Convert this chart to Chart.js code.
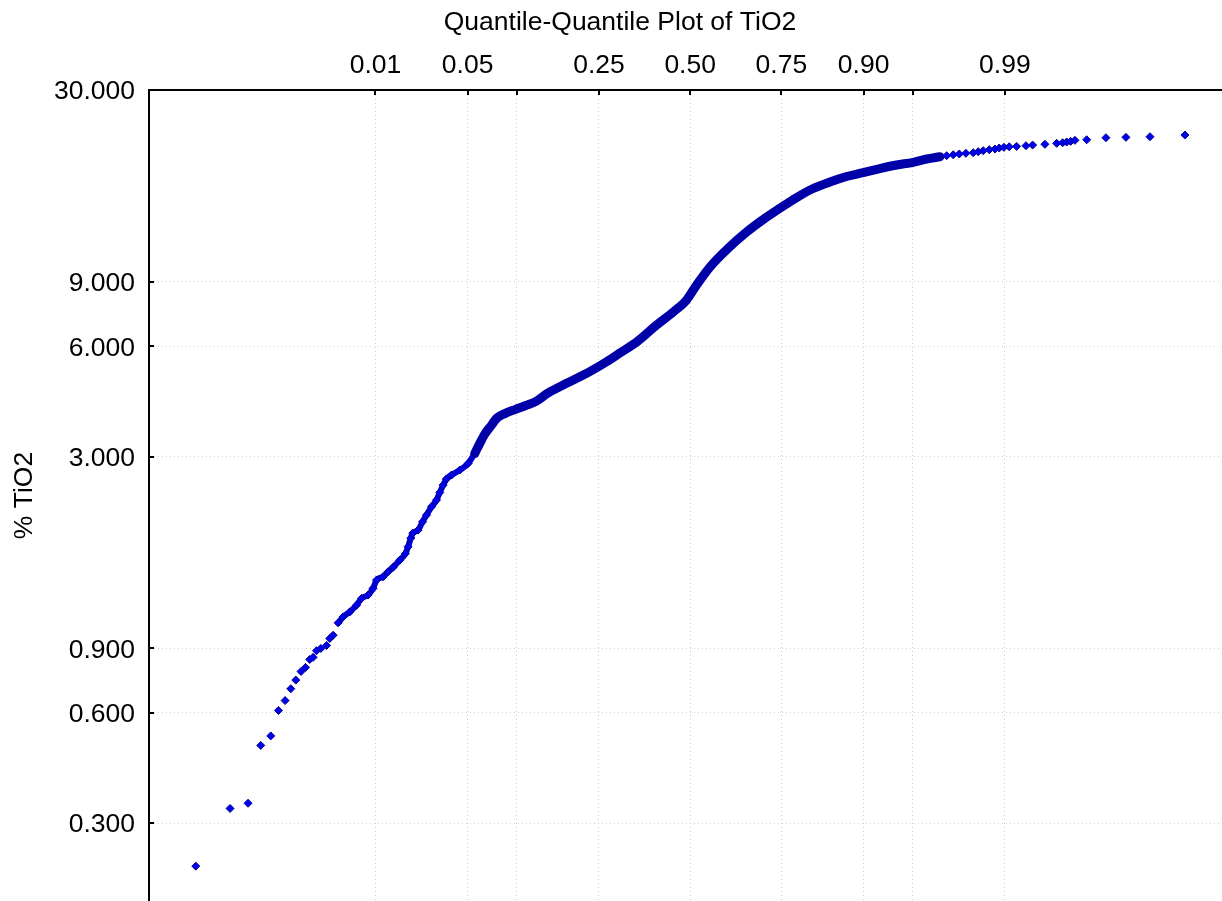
<!DOCTYPE html>
<html>
<head>
<meta charset="utf-8">
<title>Quantile-Quantile Plot of TiO2</title>
<script src="https://cdn.jsdelivr.net/npm/chart.js@4.4.1/dist/chart.umd.min.js"></script>
<style>
  html, body { margin: 0; padding: 0; background: #fff; overflow: hidden; }
  canvas { display: block; }
</style>
</head>
<body>
<canvas id="qq" width="1240" height="901"></canvas>
<script>
// top axis: normal quantile (z) positions and the probability shown for each
const probTicks = [-2.326, -1.645, -1.282, -0.674, 0, 0.674, 1.282, 1.645, 2.326]
const probLabels = ["0.01", "0.05", "", "0.25", "0.50", "0.75", "0.90", "", "0.99"]
const tio2Ticks = [0.3, 0.6, 0.9, 3, 6, 9, 30]

// lower tail, points stand apart
const lowZ = [-3.654, -3.401, -3.268, -3.174, -3.100, -3.043, -2.994, -2.952, -2.915,
  -2.876, -2.843, -2.812, -2.787, -2.762, -2.730, -2.688, -2.664, -2.639]
const lowTiO2 = [0.229, 0.329, 0.340, 0.489, 0.519, 0.609, 0.648, 0.698, 0.737,
  0.778, 0.798, 0.839, 0.850, 0.886, 0.899, 0.916, 0.957, 0.977]

// body of the sample, points overlap into a band
const bandLowZ = [-2.602, -2.565, -2.516, -2.466, -2.429, -2.381, -2.344, -2.318, -2.270,
  -2.233, -2.196, -2.146, -2.104, -2.085, -2.065, -2.050, -2.011, -1.978, -1.949, -1.912,
  -1.875, -1.851, -1.826, -1.802, -1.764, -1.703, -1.641, -1.592]
const bandLowTiO2 = [1.056, 1.096, 1.131, 1.180, 1.231, 1.257, 1.311, 1.381, 1.410,
  1.455, 1.496, 1.566, 1.633, 1.702, 1.798, 1.855, 1.891, 1.992, 2.078, 2.188,
  2.283, 2.393, 2.508, 2.605, 2.671, 2.756, 2.874, 3.060]

const bandHighZ = [-1.592, -1.555, -1.518, -1.468, -1.429, -1.370, -1.296, -1.215, -1.136,
  -1.052, -0.914, -0.742, -0.618, -0.520, -0.387, -0.248, -0.126, -0.027, 0.047, 0.146,
  0.279, 0.417, 0.540, 0.663, 0.787, 0.909, 1.033, 1.156, 1.279, 1.402, 1.526, 1.649,
  1.748, 1.846]
const bandHighTiO2 = [3.060, 3.260, 3.455, 3.656, 3.820, 3.930, 4.030, 4.134, 4.252,
  4.471, 4.752, 5.117, 5.443, 5.748, 6.197, 6.855, 7.436, 8.020, 8.810, 9.867,
  11.08, 12.29, 13.30, 14.27, 15.27, 16.16, 16.83, 17.42, 17.85, 18.32, 18.73, 19.05,
  19.45, 19.73]

// upper tail
const highZ = [1.896, 1.944, 1.989, 2.038, 2.092, 2.129, 2.166, 2.211, 2.253, 2.284,
  2.319, 2.358, 2.413, 2.482, 2.531, 2.622, 2.709, 2.753, 2.783, 2.812, 2.844, 2.931,
  3.073, 3.221, 3.399, 3.657]
const highTiO2 = [19.86, 19.98, 20.07, 20.16, 20.23, 20.36, 20.49, 20.62, 20.71, 20.84,
  20.93, 21.01, 21.05, 21.14, 21.23, 21.33, 21.46, 21.54, 21.64, 21.73, 21.87, 21.95,
  22.23, 22.28, 22.37, 22.61]

const FONT = "'Liberation Sans', Arial, Helvetica, sans-serif"
const fillBlue = "#0000f0"
const edgeBlue = "#000090"

function toPoints(zs, vs) {
  return zs.map((z, i) => ({ x: z, y: vs[i] }))
}

function markers(data) {
  return {
    data,
    showLine: false,
    pointStyle: "rectRot",
    pointRadius: 4,
    pointBorderWidth: 1,
    pointBackgroundColor: fillBlue,
    pointBorderColor: edgeBlue,
  }
}

// short tick marks pointing into the plot, like the original
const innerTicks = {
  id: "innerTicks",
  afterDraw(chart) {
    const { ctx, chartArea, scales } = chart
    ctx.save()
    ctx.strokeStyle = "#000"
    ctx.lineWidth = 2
    ctx.beginPath()
    scales.x.ticks.forEach((t) => {
      const px = Math.round(scales.x.getPixelForValue(t.value))
      ctx.moveTo(px, chartArea.top)
      ctx.lineTo(px, chartArea.top + 5)
    })
    scales.y.ticks.forEach((t) => {
      const py = Math.round(scales.y.getPixelForValue(t.value))
      ctx.moveTo(chartArea.left, py)
      ctx.lineTo(chartArea.left + 5, py)
    })
    ctx.stroke()
    ctx.restore()
  },
}

const ctx = document.getElementById("qq")

new Chart(ctx, {
  type: "scatter",
  data: {
    datasets: [
      {
        data: toPoints(bandHighZ, bandHighTiO2),
        showLine: true,
        borderColor: "#0000a8",
        borderWidth: 9,
        borderCapStyle: "round",
        borderJoinStyle: "round",
        cubicInterpolationMode: "monotone",
        pointRadius: 0,
      },
      {
        data: toPoints(bandLowZ, bandLowTiO2),
        showLine: true,
        borderColor: "#0000d8",
        borderWidth: 6,
        borderCapStyle: "round",
        borderJoinStyle: "round",
        cubicInterpolationMode: "monotone",
        pointStyle: "rectRot",
        pointRadius: 4,
        pointBorderWidth: 1,
        pointBackgroundColor: fillBlue,
        pointBorderColor: edgeBlue,
      },
      markers(toPoints(lowZ, lowTiO2)),
      markers(toPoints(highZ, highTiO2)),
    ],
  },
  options: {
    responsive: false,
    animation: false,
    devicePixelRatio: 1,
    layout: { padding: 0, autoPadding: false },
    plugins: {
      legend: { display: false },
      tooltip: { enabled: false },
      title: {
        display: true,
        text: "Quantile-Quantile Plot of TiO2",
        color: "#000",
        font: { family: FONT, size: 26.5, weight: "normal" },
        padding: { top: 7, bottom: 0 },
      },
    },
    scales: {
      x: {
        type: "linear",
        position: "top",
        bounds: "data",
        min: -4,
        max: 4.064,
        afterFit: (scale) => {
          scale.height = 51.2
          scale.paddingLeft = 0
          scale.paddingRight = 0
        },
        afterBuildTicks: (scale) => {
          scale.ticks = probTicks.map((v) => ({ value: v }))
        },
        ticks: {
          autoSkip: false,
          maxRotation: 0,
          padding: 8.5,
          color: "#000",
          font: { family: FONT, size: 26.5 },
          callback: (value, index) => probLabels[index],
        },
        grid: { color: "#cfcfcf", lineWidth: 1, drawTicks: false, borderDash: [1, 3] },
        border: { display: true, color: "#000", width: 2, dash: [1, 3] },
      },
      y: {
        type: "logarithmic",
        position: "left",
        bounds: "data",
        min: 0.184,
        max: 30,
        afterFit: (scale) => {
          scale.width = 149
          scale.paddingTop = 0
          scale.paddingBottom = 0
        },
        afterBuildTicks: (scale) => {
          scale.ticks = tio2Ticks.map((v) => ({ value: v }))
        },
        ticks: {
          padding: 14,
          labelOffset: 2,
          color: "#000",
          font: { family: FONT, size: 26.5 },
          callback: (value) => Number(value).toFixed(3),
        },
        title: {
          display: true,
          text: "% TiO2",
          color: "#000",
          font: { family: FONT, size: 26.5 },
          padding: { top: 9, bottom: 0 },
        },
        grid: { color: "#cfcfcf", lineWidth: 1, drawTicks: false, borderDash: [1, 3] },
        border: { display: true, color: "#000", width: 2, dash: [1, 3] },
      },
    },
  },
  plugins: [innerTicks],
})
</script>
</body>
</html>
